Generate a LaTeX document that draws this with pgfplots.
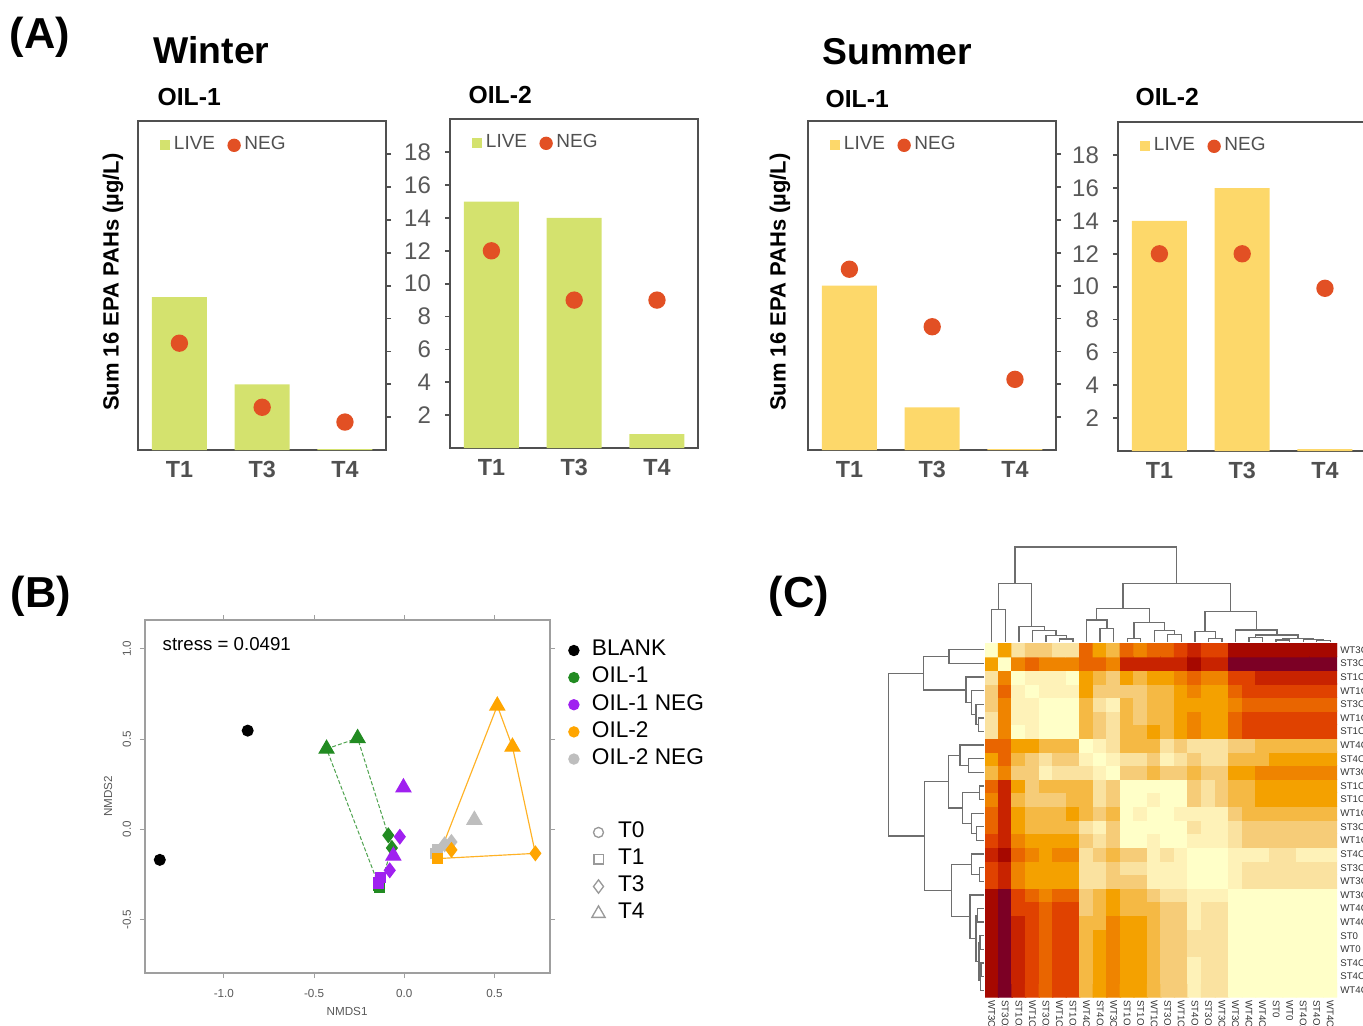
\documentclass[border=0pt]{standalone}
\usepackage{pgfplots}
\pgfplotsset{compat=1.18}
\usepackage{fontspec}
\setmainfont{Liberation Sans}
\definecolor{livew}{RGB}{212,226,110}
\definecolor{lives}{RGB}{253,216,106}
\definecolor{negc}{RGB}{226,80,36}
\definecolor{axc}{RGB}{80,80,80}
\definecolor{tkc}{RGB}{89,89,89}
\definecolor{oilone}{RGB}{34,139,34}
\definecolor{oilneg}{RGB}{160,32,240}
\definecolor{oiltwo}{RGB}{255,165,0}
\definecolor{oiltwoneg}{RGB}{190,190,190}
\definecolor{dendc}{RGB}{110,110,110}
\pgfplotsset{
 panelA/.style={scale only axis, width=74.5pt, height=98.6pt, xmin=0.5, xmax=3.5, ymin=0, ymax=20,
  xtick={1,2,3}, xticklabels={T1,T3,T4}, xtick style={draw=none}, ytick={2,4,...,18},
  axis line style={axc, line width=0.55pt}, ytick style={axc, line width=0.5pt}, major tick length=1.4pt,
  tick align=outside,
  x tick label style={font=\fontsize{7}{8}\selectfont\bfseries, text=axc, anchor=north, inner sep=0pt, yshift=-1.8pt},
  y tick label style={font=\fontsize{7.2}{8}\selectfont, text=tkc, xshift=-0.8pt},
  /pgf/number format/assume math mode=true,
  legend columns=2,
  legend style={draw=none, fill=none, at={(0.087,0.927)}, anchor=west, font=\fontsize{5.7}{6.5}\selectfont, text=axc, inner sep=0pt, nodes={inner sep=0.7pt}, /tikz/every odd column/.append style={column sep=0.4pt}, /tikz/every even column/.append style={column sep=3pt}}},
 leftA/.style={panelA, ytick pos=right, yticklabels={}},
 rightA/.style={panelA, ytick pos=left},
 dend/.style={scale only axis, hide axis, clip=false},
 dl/.style={dendc, line width=0.4pt, no marks},
 blegimg/.style={legend image code/.code={\draw[##1] plot coordinates {(1.6pt,0pt)};}},
 tlegimg/.style={legend image code/.code={\draw[##1] plot coordinates {(2pt,0pt)};}},
 livewimg/.style={legend image code/.code={\fill[livew] (0pt,-1.5pt) rectangle (3pt,1.5pt);}},
 livesimg/.style={legend image code/.code={\fill[lives] (0pt,-1.5pt) rectangle (3pt,1.5pt);}},
 negimg/.style={legend image code/.code={\fill[negc] (1.8pt,0pt) circle (1.8pt);}},
}
\begin{document}
\begin{tikzpicture}
\path[use as bounding box] (0pt,0pt) rectangle (408.9pt,-307.5pt);
% ---------------- titles panel A
\node[anchor=center, font=\fontsize{13}{14}\selectfont\bfseries] at (12pt,-11.1pt) {(A)};
\node[anchor=west, inner sep=0pt, font=\fontsize{11.2}{12}\selectfont\bfseries] at (45.9pt,-15pt) {Winter};
\node[anchor=west, inner sep=0pt, font=\fontsize{7.4}{8}\selectfont\bfseries] at (47.1pt,-29.1pt) {OIL-1};
\node[anchor=west, inner sep=0pt, font=\fontsize{7.4}{8}\selectfont\bfseries] at (140.4pt,-28.5pt) {OIL-2};
\node[anchor=west, inner sep=0pt, font=\fontsize{11.2}{12}\selectfont\bfseries] at (246.6pt,-15.6pt) {Summer};
\node[anchor=west, inner sep=0pt, font=\fontsize{7.4}{8}\selectfont\bfseries] at (247.5pt,-29.7pt) {OIL-1};
\node[anchor=west, inner sep=0pt, font=\fontsize{7.4}{8}\selectfont\bfseries] at (340.5pt,-29.1pt) {OIL-2};
\node[rotate=90, font=\fontsize{6.6}{7}\selectfont\bfseries] at (33.9pt,-84.6pt) {Sum 16 EPA PAHs (µg/L)};
\node[rotate=90, font=\fontsize{6.6}{7}\selectfont\bfseries] at (234pt,-84.6pt) {Sum 16 EPA PAHs (µg/L)};
\node[anchor=center, font=\fontsize{13}{14}\selectfont\bfseries] at (12.3pt,-178.8pt) {(B)};
\node[anchor=center, font=\fontsize{13}{14}\selectfont\bfseries] at (239.7pt,-178.8pt) {(C)};

% ---------------- Winter OIL-1
\begin{axis}[leftA, at={(41.4pt,-135pt)}, anchor=south west]
\addplot[ybar, bar width=16.5pt, bar shift=0pt, fill=livew, draw=none, livewimg] coordinates {(1,9.3) (2,4.0) (3,0.06)};
\addlegendentry{LIVE}
\addplot[only marks, mark=*, mark size=2.4pt, color=negc, negimg] coordinates {(1,6.5) (2,2.6) (3,1.7)};
\addlegendentry{NEG}
\end{axis}
% ---------------- Winter OIL-2
\begin{axis}[rightA, at={(135pt,-134.4pt)}, anchor=south west]
\addplot[ybar, bar width=16.5pt, bar shift=0pt, fill=livew, draw=none, livewimg] coordinates {(1,15.0) (2,14.0) (3,0.85)};
\addlegendentry{LIVE}
\addplot[only marks, mark=*, mark size=2.4pt, color=negc, negimg] coordinates {(1,12.0) (2,9.0) (3,9.0)};
\addlegendentry{NEG}
\end{axis}
% ---------------- Summer OIL-1
\begin{axis}[leftA, at={(242.4pt,-135pt)}, anchor=south west]
\addplot[ybar, bar width=16.5pt, bar shift=0pt, fill=lives, draw=none, livesimg] coordinates {(1,10.0) (2,2.6) (3,0.06)};
\addlegendentry{LIVE}
\addplot[only marks, mark=*, mark size=2.4pt, color=negc, negimg] coordinates {(1,11.0) (2,7.5) (3,4.3)};
\addlegendentry{NEG}
\end{axis}
% ---------------- Summer OIL-2
\begin{axis}[rightA, at={(335.4pt,-135.3pt)}, anchor=south west]
\addplot[ybar, bar width=16.5pt, bar shift=0pt, fill=lives, draw=none, livesimg] coordinates {(1,14.0) (2,16.0) (3,0.12)};
\addlegendentry{LIVE}
\addplot[only marks, mark=*, mark size=2.4pt, color=negc, negimg] coordinates {(1,12.0) (2,12.0) (3,9.9)};
\addlegendentry{NEG}
\end{axis}

% ---------------- Panel B: NMDS
\begin{axis}[at={(43.5pt,-291.9pt)}, anchor=south west, scale only axis, width=121.5pt, height=105.9pt,
 xmin=-1.437, xmax=0.807, ymin=-0.796, ymax=1.160,
 axis line style={draw=gray!75, line width=0.4pt},
 xtick={-1,-0.5,0,0.5}, ytick={-0.5,0,0.5,1},
 xticklabels={-1.0,-0.5,0.0,0.5}, yticklabels={-0.5,0.0,0.5,1.0},
 tick align=outside, major tick length=1.5pt, tick style={gray!75, line width=0.3pt},
 ticklabel style={font=\fontsize{3.5}{4}\selectfont, text=gray!70!black},
 yticklabel style={rotate=90, anchor=south, yshift=-0.8pt},
 xlabel={NMDS1}, ylabel={NMDS2},
 label style={font=\fontsize{3.5}{4}\selectfont, text=gray!70!black},
 xlabel style={at={(axis description cs:0.499,-0.11)}, anchor=center},
 ylabel style={at={(axis description cs:-0.091,0.5)}, anchor=center},
 clip=false,
 legend cell align=left,
 legend style={at={(1.0203,0.972)}, anchor=north west, draw=none, fill=none, font=\fontsize{6.8}{8}\selectfont, row sep=0.1pt, nodes={inner sep=0.9pt}, /tikz/every odd column/.append style={column sep=3pt}},
]
\node[anchor=west, inner sep=0pt, font=\fontsize{5.6}{6}\selectfont] at (rel axis cs:0.042,0.932) {stress = 0.0491};
% hulls
\addplot[oilone!80, dash pattern=on 1.2pt off 0.6pt, line width=0.3pt, forget plot] coordinates {(-0.431,0.446) (-0.259,0.505) (-0.089,-0.033) (-0.069,-0.103) (-0.137,-0.322) (-0.431,0.446)};
\addplot[oiltwo!85, line width=0.35pt, forget plot] coordinates {(0.185,-0.162) (0.515,0.685) (0.599,0.457) (0.726,-0.133) (0.185,-0.162)};
% BLANK
\addplot[only marks, mark=*, mark size=1.6pt, black, forget plot] coordinates {(-0.868,0.547) (-1.355,-0.169)};
% OIL-1
\addplot[only marks, mark=triangle*, mark size=2.5pt, oilone, forget plot] coordinates {(-0.431,0.446) (-0.259,0.505)};
\addplot[only marks, mark=diamond*, mark size=2.1pt, oilone, forget plot] coordinates {(-0.089,-0.033) (-0.069,-0.103)};
\addplot[only marks, mark=square*, mark size=1.5pt, oilone, forget plot] coordinates {(-0.137,-0.322) (-0.142,-0.310)};
% OIL-1 NEG
\addplot[only marks, mark=triangle*, mark size=2.5pt, oilneg, forget plot] coordinates {(-0.005,0.232) (-0.061,-0.147)};
\addplot[only marks, mark=diamond*, mark size=2.1pt, oilneg, forget plot] coordinates {(-0.025,-0.041) (-0.081,-0.227)};
\addplot[only marks, mark=square*, mark size=1.5pt, oilneg, forget plot] coordinates {(-0.132,-0.267) (-0.142,-0.298)};
% OIL-2 NEG
\addplot[only marks, mark=triangle*, mark size=2.5pt, oiltwoneg, forget plot] coordinates {(0.388,0.052)};
\addplot[only marks, mark=diamond*, mark size=2.1pt, oiltwoneg, forget plot] coordinates {(0.261,-0.070) (0.223,-0.083)};
\addplot[only marks, mark=square*, mark size=1.5pt, oiltwoneg, forget plot] coordinates {(0.185,-0.110) (0.173,-0.133)};
% OIL-2
\addplot[only marks, mark=triangle*, mark size=2.5pt, oiltwo, forget plot] coordinates {(0.515,0.685) (0.599,0.457)};
\addplot[only marks, mark=diamond*, mark size=2.1pt, oiltwo, forget plot] coordinates {(0.726,-0.133) (0.261,-0.114)};
\addplot[only marks, mark=square*, mark size=1.5pt, oiltwo, forget plot] coordinates {(0.185,-0.162)};
% legend
\addlegendimage{only marks, mark=*, mark size=1.5pt, black, blegimg}
\addlegendentry{BLANK}
\addlegendimage{only marks, mark=*, mark size=1.5pt, oilone, blegimg}
\addlegendentry{OIL-1}
\addlegendimage{only marks, mark=*, mark size=1.5pt, oilneg, blegimg}
\addlegendentry{OIL-1 NEG}
\addlegendimage{only marks, mark=*, mark size=1.5pt, oiltwo, blegimg}
\addlegendentry{OIL-2}
\addlegendimage{only marks, mark=*, mark size=1.5pt, oiltwoneg, blegimg}
\addlegendentry{OIL-2 NEG}
\end{axis}
% second legend for panel B
\begin{axis}[at={(43.5pt,-291.9pt)}, anchor=south west, scale only axis, width=121.5pt, height=105.9pt,
 hide axis, xmin=0, xmax=1, ymin=0, ymax=1,
 legend cell align=left,
 legend style={at={(1.077,0.457)}, anchor=north west, draw=none, fill=none, font=\fontsize{6.8}{8}\selectfont, row sep=0.1pt, nodes={inner sep=0.9pt}, /tikz/every odd column/.append style={column sep=3pt}},
]
\addlegendimage{only marks, mark=o, mark size=1.5pt, gray!80, tlegimg}
\addlegendentry{T0}
\addlegendimage{only marks, mark=square, mark size=1.4pt, gray!80, tlegimg}
\addlegendentry{T1}
\addlegendimage{only marks, mark=diamond, mark size=2pt, gray!80, tlegimg}
\addlegendentry{T3}
\addlegendimage{only marks, mark=triangle, mark size=2.3pt, gray!80, tlegimg}
\addlegendentry{T4}
\end{axis}

% ---------------- Panel C: heatmap
\begin{axis}[at={(295.5pt,-299.1pt)}, anchor=south west, scale only axis, width=105.6pt, height=106.2pt,
 xmin=0.5, xmax=26.5, ymin=0.5, ymax=26.5, enlargelimits=false,
 axis line style={draw=none}, tick style={draw=none},
 xtick={1,...,26}, ytick={1,...,26},
 xticklabels={WT3O2,ST3O2,ST1O2,WT1O2,ST3O2N,WT1O2N,ST1O2N,WT4O2N,ST4O2N,WT3O2N,ST1O1,ST1O1N,WT1O1,ST3O1N,WT1O1N,ST4O1N,ST3O1,WT3O1,WT3O1N,WT4O1N,WT4O2,ST0,WT0,ST4O2,ST4O1,WT4O1},
 yticklabels={WT4O1,ST4O1,ST4O2,WT0,ST0,WT4O2,WT4O1N,WT3O1N,WT3O1,ST3O1,ST4O1N,WT1O1N,ST3O1N,WT1O1,ST1O1N,ST1O1,WT3O2N,ST4O2N,WT4O2N,ST1O2N,WT1O2N,ST3O2N,WT1O2,ST1O2,ST3O2,WT3O2},
 yticklabel pos=right,
 xticklabel style={rotate=-90, anchor=west, inner sep=0.8pt, font=\fontsize{2.9}{3}\selectfont, text=gray!40!black},
 yticklabel style={anchor=west, inner sep=0.8pt, font=\fontsize{2.9}{3}\selectfont, text=gray!40!black},
 colormap={heatc}{rgb255=(255,255,200) rgb255=(254,242,184) rgb255=(250,226,160) rgb255=(246,204,120) rgb255=(245,185,68) rgb255=(244,161,0) rgb255=(239,132,0) rgb255=(233,101,0) rgb255=(224,66,0) rgb255=(200,35,0) rgb255=(166,8,0) rgb255=(124,0,37)},
 colormap access=direct,
]
\addplot[matrix plot*, mesh/cols=26, point meta=explicit] table[meta=c, row sep=\\] {
x y c\\
1 1 10\\2 1 11\\3 1 9\\4 1 8\\5 1 7\\6 1 8\\7 1 8\\8 1 4\\9 1 5\\10 1 6\\11 1 5\\12 1 5\\13 1 4\\14 1 3\\15 1 3\\16 1 1\\17 1 2\\18 1 2\\19 1 0\\20 1 0\\21 1 0\\22 1 0\\23 1 0\\24 1 0\\25 1 0\\26 1 0\\
1 2 10\\2 2 11\\3 2 9\\4 2 8\\5 2 7\\6 2 8\\7 2 8\\8 2 4\\9 2 5\\10 2 6\\11 2 5\\12 2 5\\13 2 4\\14 2 3\\15 2 3\\16 2 1\\17 2 2\\18 2 2\\19 2 0\\20 2 0\\21 2 0\\22 2 0\\23 2 0\\24 2 0\\25 2 0\\26 2 0\\
1 3 10\\2 3 11\\3 3 9\\4 3 8\\5 3 7\\6 3 8\\7 3 8\\8 3 4\\9 3 5\\10 3 6\\11 3 5\\12 3 5\\13 3 4\\14 3 3\\15 3 3\\16 3 1\\17 3 2\\18 3 2\\19 3 0\\20 3 0\\21 3 0\\22 3 0\\23 3 0\\24 3 0\\25 3 0\\26 3 0\\
1 4 10\\2 4 11\\3 4 9\\4 4 8\\5 4 7\\6 4 8\\7 4 8\\8 4 4\\9 4 5\\10 4 6\\11 4 5\\12 4 5\\13 4 4\\14 4 3\\15 4 3\\16 4 2\\17 4 2\\18 4 2\\19 4 0\\20 4 0\\21 4 0\\22 4 0\\23 4 0\\24 4 0\\25 4 0\\26 4 0\\
1 5 10\\2 5 11\\3 5 9\\4 5 8\\5 5 7\\6 5 8\\7 5 8\\8 5 4\\9 5 5\\10 5 6\\11 5 5\\12 5 5\\13 5 4\\14 5 3\\15 5 3\\16 5 2\\17 5 2\\18 5 2\\19 5 0\\20 5 0\\21 5 0\\22 5 0\\23 5 0\\24 5 0\\25 5 0\\26 5 0\\
1 6 10\\2 6 11\\3 6 9\\4 6 8\\5 6 7\\6 6 8\\7 6 8\\8 6 4\\9 6 4\\10 6 6\\11 6 5\\12 6 5\\13 6 4\\14 6 3\\15 6 3\\16 6 1\\17 6 2\\18 6 2\\19 6 0\\20 6 0\\21 6 0\\22 6 0\\23 6 0\\24 6 0\\25 6 0\\26 6 0\\
1 7 10\\2 7 11\\3 7 8\\4 7 8\\5 7 7\\6 7 8\\7 7 8\\8 7 3\\9 7 4\\10 7 5\\11 7 4\\12 7 4\\13 7 4\\14 7 3\\15 7 3\\16 7 1\\17 7 2\\18 7 2\\19 7 0\\20 7 0\\21 7 0\\22 7 0\\23 7 0\\24 7 0\\25 7 0\\26 7 0\\
1 8 10\\2 8 11\\3 8 8\\4 8 7\\5 8 6\\6 8 7\\7 8 7\\8 8 3\\9 8 4\\10 8 5\\11 8 4\\12 8 4\\13 8 3\\14 8 2\\15 8 2\\16 8 1\\17 8 1\\18 8 1\\19 8 0\\20 8 0\\21 8 0\\22 8 0\\23 8 0\\24 8 0\\25 8 0\\26 8 0\\
1 9 8\\2 9 9\\3 9 6\\4 9 5\\5 9 5\\6 9 5\\7 9 5\\8 9 2\\9 9 2\\10 9 3\\11 9 3\\12 9 3\\13 9 1\\14 9 1\\15 9 1\\16 9 0\\17 9 0\\18 9 0\\19 9 1\\20 9 2\\21 9 2\\22 9 2\\23 9 2\\24 9 2\\25 9 2\\26 9 2\\
1 10 8\\2 10 9\\3 10 6\\4 10 5\\5 10 5\\6 10 5\\7 10 5\\8 10 2\\9 10 2\\10 10 3\\11 10 2\\12 10 2\\13 10 1\\14 10 1\\15 10 1\\16 10 0\\17 10 0\\18 10 0\\19 10 1\\20 10 2\\21 10 2\\22 10 2\\23 10 2\\24 10 2\\25 10 2\\26 10 2\\
1 11 9\\2 11 10\\3 11 7\\4 11 6\\5 11 5\\6 11 6\\7 11 6\\8 11 2\\9 11 3\\10 11 4\\11 11 3\\12 11 3\\13 11 1\\14 11 2\\15 11 1\\16 11 0\\17 11 0\\18 11 0\\19 11 1\\20 11 1\\21 11 1\\22 11 2\\23 11 2\\24 11 1\\25 11 1\\26 11 1\\
1 12 8\\2 12 9\\3 12 6\\4 12 5\\5 12 5\\6 12 5\\7 12 5\\8 12 3\\9 12 2\\10 12 3\\11 12 0\\12 12 0\\13 12 1\\14 12 0\\15 12 0\\16 12 1\\17 12 1\\18 12 1\\19 12 2\\20 12 3\\21 12 3\\22 12 3\\23 12 3\\24 12 3\\25 12 3\\26 12 3\\
1 13 7\\2 13 9\\3 13 5\\4 13 4\\5 13 4\\6 13 4\\7 13 4\\8 13 2\\9 13 1\\10 13 3\\11 13 0\\12 13 0\\13 13 0\\14 13 0\\15 13 0\\16 13 2\\17 13 1\\18 13 1\\19 13 2\\20 13 3\\21 13 3\\22 13 3\\23 13 3\\24 13 3\\25 13 3\\26 13 3\\
1 14 7\\2 14 9\\3 14 5\\4 14 4\\5 14 4\\6 14 4\\7 14 5\\8 14 4\\9 14 3\\10 14 4\\11 14 0\\12 14 1\\13 14 0\\14 14 0\\15 14 1\\16 14 1\\17 14 1\\18 14 1\\19 14 3\\20 14 4\\21 14 4\\22 14 4\\23 14 4\\24 14 4\\25 14 4\\26 14 4\\
1 15 6\\2 15 9\\3 15 4\\4 15 3\\5 15 3\\6 15 3\\7 15 4\\8 15 4\\9 15 2\\10 15 3\\11 15 0\\12 15 0\\13 15 1\\14 15 0\\15 15 0\\16 15 3\\17 15 2\\18 15 3\\19 15 4\\20 15 4\\21 15 5\\22 15 5\\23 15 5\\24 15 5\\25 15 5\\26 15 5\\
1 16 7\\2 16 9\\3 16 5\\4 16 3\\5 16 4\\6 16 4\\7 16 4\\8 16 4\\9 16 2\\10 16 3\\11 16 0\\12 16 0\\13 16 0\\14 16 0\\15 16 0\\16 16 3\\17 16 2\\18 16 3\\19 16 4\\20 16 4\\21 16 5\\22 16 5\\23 16 5\\24 16 5\\25 16 5\\26 16 5\\
1 17 4\\2 17 6\\3 17 3\\4 17 3\\5 17 1\\6 17 2\\7 17 2\\8 17 2\\9 17 1\\10 17 0\\11 17 3\\12 17 3\\13 17 4\\14 17 3\\15 17 3\\16 17 4\\17 17 3\\18 17 3\\19 17 5\\20 17 5\\21 17 6\\22 17 6\\23 17 6\\24 17 6\\25 17 6\\26 17 6\\
1 18 5\\2 18 7\\3 18 4\\4 18 3\\5 18 2\\6 18 3\\7 18 3\\8 18 1\\9 18 0\\10 18 1\\11 18 2\\12 18 2\\13 18 3\\14 18 1\\15 18 2\\16 18 3\\17 18 2\\18 18 2\\19 18 4\\20 18 4\\21 18 4\\22 18 5\\23 18 5\\24 18 5\\25 18 5\\26 18 5\\
1 19 7\\2 19 7\\3 19 5\\4 19 5\\5 19 4\\6 19 4\\7 19 4\\8 19 0\\9 19 1\\10 19 2\\11 19 4\\12 19 4\\13 19 4\\14 19 2\\15 19 3\\16 19 2\\17 19 2\\18 19 2\\19 19 3\\20 19 3\\21 19 4\\22 19 4\\23 19 4\\24 19 4\\25 19 4\\26 19 4\\
1 20 2\\2 20 6\\3 20 0\\4 20 1\\5 20 0\\6 20 0\\7 20 0\\8 20 4\\9 20 3\\10 20 2\\11 20 4\\12 20 4\\13 20 5\\14 20 4\\15 20 5\\16 20 6\\17 20 5\\18 20 5\\19 20 7\\20 20 8\\21 20 8\\22 20 8\\23 20 8\\24 20 8\\25 20 8\\26 20 8\\
1 21 2\\2 21 6\\3 21 1\\4 21 1\\5 21 0\\6 21 0\\7 21 0\\8 21 4\\9 21 3\\10 21 2\\11 21 4\\12 21 3\\13 21 4\\14 21 4\\15 21 5\\16 21 6\\17 21 5\\18 21 5\\19 21 7\\20 21 8\\21 21 8\\22 21 8\\23 21 8\\24 21 8\\25 21 8\\26 21 8\\
1 22 3\\2 22 6\\3 22 1\\4 22 1\\5 22 0\\6 22 0\\7 22 0\\8 22 4\\9 22 2\\10 22 1\\11 22 4\\12 22 3\\13 22 4\\14 22 4\\15 22 5\\16 22 5\\17 22 5\\18 22 5\\19 22 6\\20 22 7\\21 22 7\\22 22 7\\23 22 7\\24 22 7\\25 22 7\\26 22 7\\
1 23 3\\2 23 7\\3 23 1\\4 23 0\\5 23 1\\6 23 1\\7 23 1\\8 23 5\\9 23 3\\10 23 3\\11 23 3\\12 23 3\\13 23 4\\14 23 4\\15 23 5\\16 23 6\\17 23 5\\18 23 5\\19 23 7\\20 23 8\\21 23 8\\22 23 8\\23 23 8\\24 23 8\\25 23 8\\26 23 8\\
1 24 2\\2 24 6\\3 24 0\\4 24 1\\5 24 1\\6 24 1\\7 24 0\\8 24 5\\9 24 4\\10 24 3\\11 24 5\\12 24 4\\13 24 5\\14 24 5\\15 24 6\\16 24 7\\17 24 6\\18 24 6\\19 24 8\\20 24 8\\21 24 9\\22 24 9\\23 24 9\\24 24 9\\25 24 9\\26 24 9\\
1 25 5\\2 25 0\\3 25 6\\4 25 7\\5 25 6\\6 25 6\\7 25 6\\8 25 7\\9 25 7\\10 25 6\\11 25 9\\12 25 9\\13 25 9\\14 25 9\\15 25 9\\16 25 10\\17 25 9\\18 25 9\\19 25 11\\20 25 11\\21 25 11\\22 25 11\\23 25 11\\24 25 11\\25 25 11\\26 25 11\\
1 26 0\\2 26 5\\3 26 2\\4 26 3\\5 26 3\\6 26 2\\7 26 2\\8 26 7\\9 26 5\\10 26 4\\11 26 7\\12 26 6\\13 26 7\\14 26 7\\15 26 8\\16 26 9\\17 26 8\\18 26 8\\19 26 10\\20 26 10\\21 26 10\\22 26 10\\23 26 10\\24 26 10\\25 26 10\\26 26 10\\
};
\end{axis}

% ---------------- top dendrogram
\begin{axis}[dend, at={(295.5pt,-192.9pt)}, anchor=south west, width=105.6pt, height=28.8pt, xmin=0.5, xmax=26.5, ymin=0, ymax=287]
\addplot[dl] coordinates {(1,3) (1,101) (2,101) (2,3)};
\addplot[dl] coordinates {(6,3) (6,12) (7,12) (7,3)};
\addplot[dl] coordinates {(5,3) (5,22) (6.5,22) (6.5,12)};
\addplot[dl] coordinates {(4,3) (4,37) (5.75,37) (5.75,22)};
\addplot[dl] coordinates {(3,3) (3,49) (4.875,49) (4.875,37)};
\addplot[dl] coordinates {(1.5,101) (1.5,178) (3.94,178) (3.94,49)};
\addplot[dl] coordinates {(9,3) (9,44) (10,44) (10,3)};
\addplot[dl] coordinates {(8,3) (8,69) (9.5,69) (9.5,44)};
\addplot[dl] coordinates {(11,3) (11,14) (12,14) (12,3)};
\addplot[dl] coordinates {(14,3) (14,26) (15,26) (15,3)};
\addplot[dl] coordinates {(13,3) (13,37) (14.5,37) (14.5,26)};
\addplot[dl] coordinates {(11.5,14) (11.5,61) (13.75,61) (13.75,37)};
\addplot[dl] coordinates {(8.75,69) (8.75,104) (12.625,104) (12.625,61)};
\addplot[dl] coordinates {(17,3) (17,14) (18,14) (18,3)};
\addplot[dl] coordinates {(16,3) (16,34) (17.5,34) (17.5,14)};
\addplot[dl] coordinates {(20,3) (20,17) (21,17) (21,3)};
\addplot[dl] coordinates {(22,3) (22,9) (23,9) (23,3)};
\addplot[dl] coordinates {(25,3) (25,8) (26,8) (26,3)};
\addplot[dl] coordinates {(24,3) (24,10) (25.5,10) (25.5,8)};
\addplot[dl] coordinates {(22.5,9) (22.5,13) (24.75,13) (24.75,10)};
\addplot[dl] coordinates {(20.5,17) (20.5,24) (23.625,24) (23.625,13)};
\addplot[dl] coordinates {(19,3) (19,39) (22.06,39) (22.06,24)};
\addplot[dl] coordinates {(16.75,34) (16.75,94) (20.53,94) (20.53,39)};
\addplot[dl] coordinates {(10.69,104) (10.69,178) (18.64,178) (18.64,94)};
\addplot[dl] coordinates {(2.72,178) (2.72,287) (14.66,287) (14.66,178)};
\end{axis}

% ---------------- left dendrogram
\begin{axis}[dend, at={(266.5pt,-299.1pt)}, anchor=south west, width=29pt, height=106.2pt, xmin=0, xmax=290, x dir=reverse, ymin=0.5, ymax=26.5]
\addplot[dl] coordinates {(3,26) (108,26) (108,25) (3,25)};
\addplot[dl] coordinates {(3,21) (19,21) (19,20) (3,20)};
\addplot[dl] coordinates {(3,22) (27,22) (27,20.5) (19,20.5)};
\addplot[dl] coordinates {(3,23) (40,23) (40,21.25) (27,21.25)};
\addplot[dl] coordinates {(3,24) (57,24) (57,22.125) (40,22.125)};
\addplot[dl] coordinates {(108,25.5) (185,25.5) (185,23.06) (57,23.06)};
\addplot[dl] coordinates {(3,18) (50,18) (50,17) (3,17)};
\addplot[dl] coordinates {(3,19) (75,19) (75,17.5) (50,17.5)};
\addplot[dl] coordinates {(3,16) (17,16) (17,15) (3,15)};
\addplot[dl] coordinates {(3,13) (25,13) (25,12) (3,12)};
\addplot[dl] coordinates {(3,14) (40,14) (40,12.5) (25,12.5)};
\addplot[dl] coordinates {(17,15.5) (67,15.5) (67,13.25) (40,13.25)};
\addplot[dl] coordinates {(75,18.25) (110,18.25) (110,14.375) (67,14.375)};
\addplot[dl] coordinates {(3,10) (17,10) (17,9) (3,9)};
\addplot[dl] coordinates {(3,11) (40,11) (40,9.5) (17,9.5)};
\addplot[dl] coordinates {(3,7) (23,7) (23,6) (3,6)};
\addplot[dl] coordinates {(3,5) (15,5) (15,4) (3,4)};
\addplot[dl] coordinates {(3,3) (12,3) (12,2) (3,2)};
\addplot[dl] coordinates {(12,2.5) (14,2.5) (14,1) (3,1)};
\addplot[dl] coordinates {(15,4.5) (18,4.5) (18,1.75) (14,1.75)};
\addplot[dl] coordinates {(23,6.5) (27,6.5) (27,3.125) (18,3.125)};
\addplot[dl] coordinates {(3,8) (45,8) (45,4.81) (27,4.81)};
\addplot[dl] coordinates {(40,10.25) (100,10.25) (100,6.41) (45,6.41)};
\addplot[dl] coordinates {(110,16.31) (182,16.31) (182,8.33) (100,8.33)};
\addplot[dl] coordinates {(185,24.28) (290,24.28) (290,12.32) (182,12.32)};
\end{axis}
\end{tikzpicture}
\end{document}
